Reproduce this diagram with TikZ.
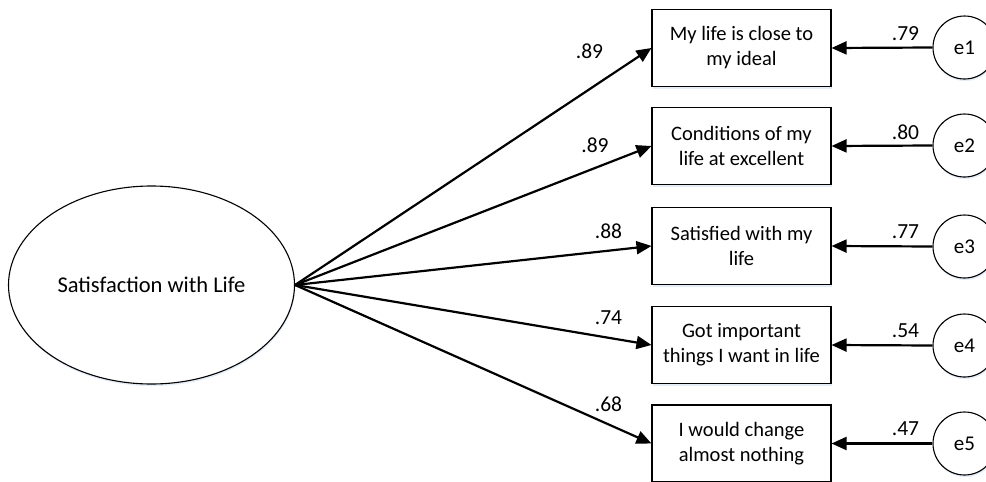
\documentclass[tikz,border=0pt]{standalone}
\usepackage{fontspec}
\setmainfont{Carlito}
\usetikzlibrary{arrows.meta,shapes.geometric,shadows}
\definecolor{glow}{RGB}{200,218,240}
\tikzset{
  soft/.style={drop shadow={shadow xshift=0.6pt,shadow yshift=-2pt,fill=glow,opacity=0.5}},
  latent/.style={ellipse,draw,line width=1.1pt,fill=white,soft,minimum width=286pt,minimum height=198pt,inner sep=0pt,font=\fontsize{22.5}{27}\selectfont},
  item/.style={rectangle,draw,line width=1.1pt,fill=white,soft,minimum width=179pt,minimum height=77pt,inner sep=0pt,align=center,font=\fontsize{20.5}{25}\selectfont},
  err/.style={circle,draw,line width=1.1pt,fill=white,soft,minimum size=63pt,inner sep=0pt,font=\fontsize{21}{24}\selectfont},
  coef/.style={inner sep=0pt,font=\fontsize{21.5}{24}\selectfont},
  path/.style={line width=2.2pt,-{Triangle[length=15pt,width=13pt]}},
}
\begin{document}
\begin{tikzpicture}[x=1pt,y=-1pt]
\useasboundingbox (0,0) rectangle (986,482);
\fill[white] (0,0) rectangle (986,482);

% latent factor
\node[latent] (sat) at (151.5,285) {Satisfaction with Life};

% observed items
\node[item] (i1) at (741.5,48)  {My life is close to\\my ideal};
\node[item] (i2) at (741.5,146) {Conditions of my\\life at excellent};
\node[item] (i3) at (741.5,246) {Satisfied with my\\life};
\node[item] (i4) at (741.5,345) {Got important\\things I want in life};
\node[item] (i5) at (741.5,443.5) {I would change\\almost nothing};

% error terms
\node[err] (e1) at (964.5,47.5)  {e1};
\node[err] (e2) at (964.5,145.5) {e2};
\node[err] (e3) at (964.5,246.5) {e3};
\node[err] (e4) at (964.5,345.5) {e4};
\node[err] (e5) at (964.5,443.5) {e5};

% factor loadings
\foreach \k in {1,...,5} \draw[path] (sat.east) -- (i\k.west);
\node[coef] (l1) at (589.5,51)  {.89};
\node[coef] (l2) at (595,145)   {.89};
\node[coef] (l3) at (608.5,231.5) {.88};
\node[coef] (l4) at (608.5,318) {.74};
\node[coef] (l5) at (608.5,404) {.68};

% error paths
\foreach \k in {1,...,5} \draw[path] (e\k.west) -- (i\k.east);
\node[coef] (m1) at (905.5,34)  {.79};
\node[coef] (m2) at (905.5,132) {.80};
\node[coef] (m3) at (905.5,232) {.77};
\node[coef] (m4) at (905.5,331) {.54};
\node[coef] (m5) at (905.5,429) {.47};
\end{tikzpicture}
\end{document}
